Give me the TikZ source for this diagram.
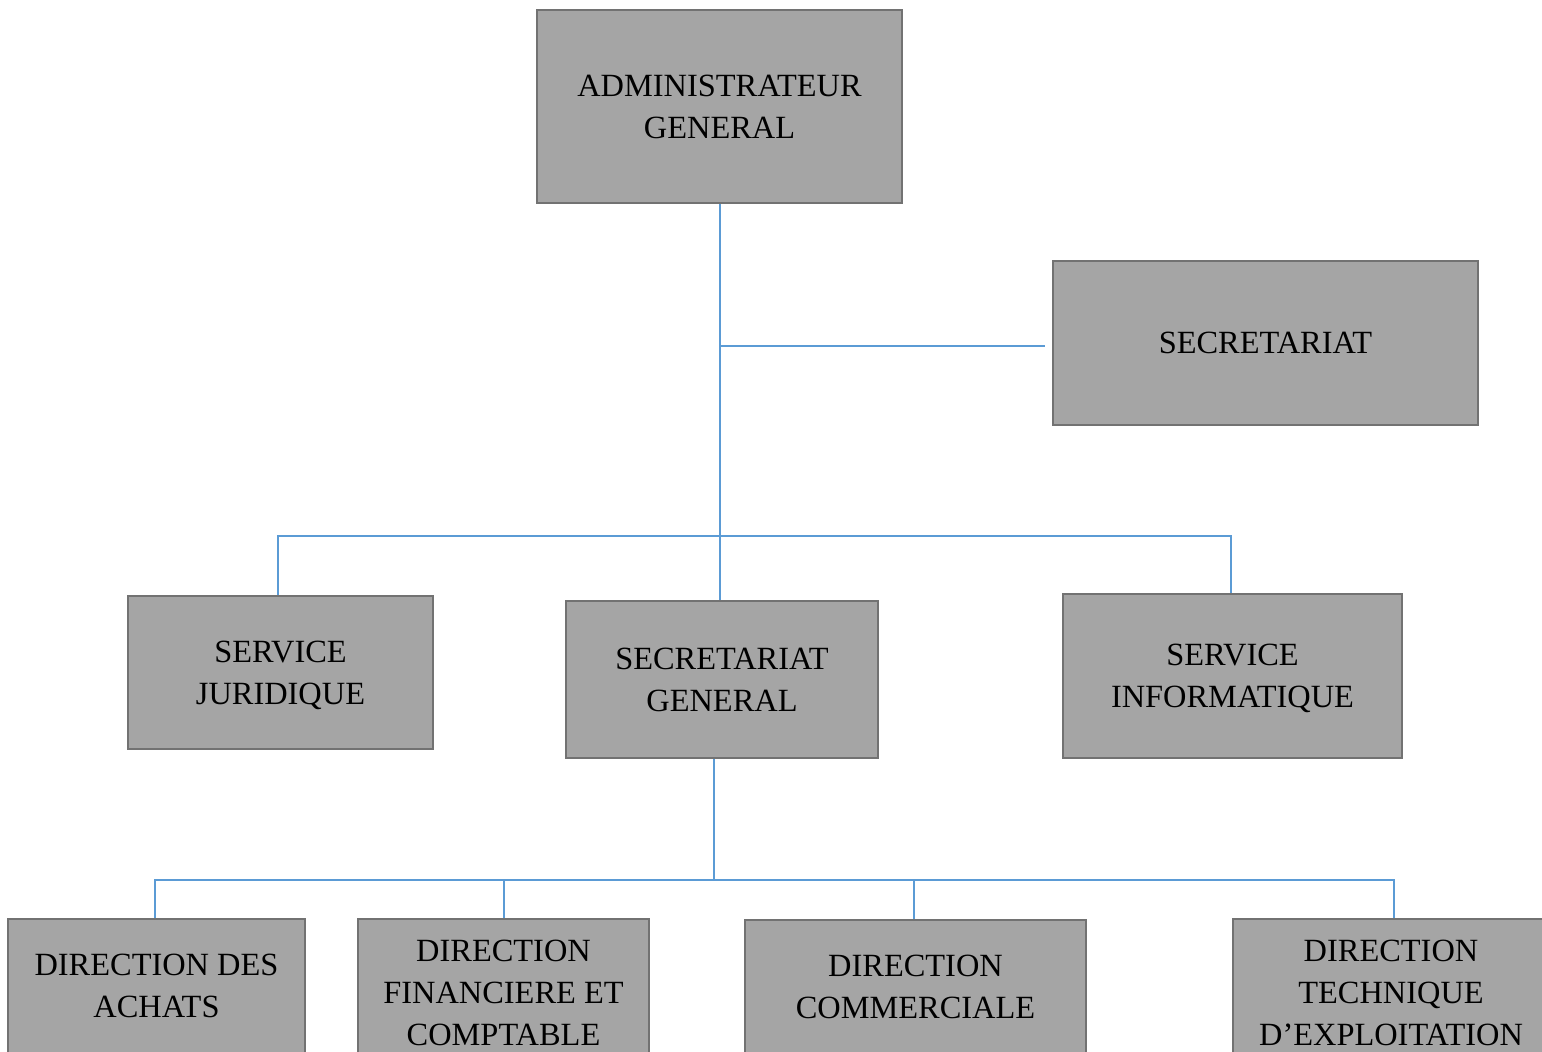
\documentclass[tikz,border=0pt]{standalone}
\usepackage{fontspec}
\setmainfont{Liberation Serif}
\definecolor{boxfill}{HTML}{A5A5A5}
\definecolor{boxline}{HTML}{727272}
\definecolor{link}{HTML}{5B9BD5}
\begin{document}
\begin{tikzpicture}[x=1pt,y=-1pt,
  unit/.style={draw=boxline, line width=2.5pt, fill=boxfill, inner sep=0pt,
    align=center, text=black, font=\fontsize{32.4}{42}\selectfont},
  conn/.style={draw=link, line width=1.5pt}]
\clip (0,0) rectangle (1542,1052);
\fill[white] (0,0) rectangle (1542,1052);
% nodes
\node[unit, minimum width=365pt, minimum height=193pt] (ag) at (719.5,106.5) {ADMINISTRATEUR\\GENERAL};
\node[unit, minimum width=425pt, minimum height=164pt] (sec) at (1265.5,343) {SECRETARIAT};
\node[unit, minimum width=305pt, minimum height=153pt, text depth=0pt] (sj) at (280.5,672.5) {SERVICE\\JURIDIQUE};
\node[unit, minimum width=312pt, minimum height=157pt] (sg) at (722,679.5) {SECRETARIAT\\GENERAL};
\node[unit, minimum width=339pt, minimum height=164pt, text depth=0pt] (si) at (1232.5,676) {SERVICE\\INFORMATIQUE};
\node[unit, minimum width=297pt, minimum height=148pt, text depth=14pt] (da) at (156.5,993) {DIRECTION DES\\ACHATS};
\node[unit, minimum width=291pt, minimum height=148pt] (df) at (503.5,993) {DIRECTION\\FINANCIERE ET\\COMPTABLE};
\node[unit, minimum width=341pt, minimum height=148pt, text depth=14pt] (dc) at (915.5,994) {DIRECTION\\COMMERCIALE};
\node[unit, minimum width=316pt, minimum height=148pt] (dt) at (1391,993) {DIRECTION\\TECHNIQUE\\D’EXPLOITATION};
% junctions
\coordinate (j1) at (720,346);
\coordinate (j2) at (720,536);
\coordinate (j3) at (714,880);
% connectors
\draw[conn] (ag.south -| j1) -- (j2) -- (sg.north -| j2);
\draw[conn, shorten >=7pt] (j1) -- (j1 -| sec.west);
\draw[conn] (sj.north -| 278,0) |- (j2) -| (si.north -| 1231,0);
\draw[conn] (sg.south -| j3) -- (j3);
\draw[conn] (da.north -| 155,0) |- (j3) -| (dt.north -| 1394,0);
\draw[conn] (df.north -| 504,0) -- (504,880);
\draw[conn] (dc.north -| 914,0) -- (914,880);
\end{tikzpicture}
\end{document}
